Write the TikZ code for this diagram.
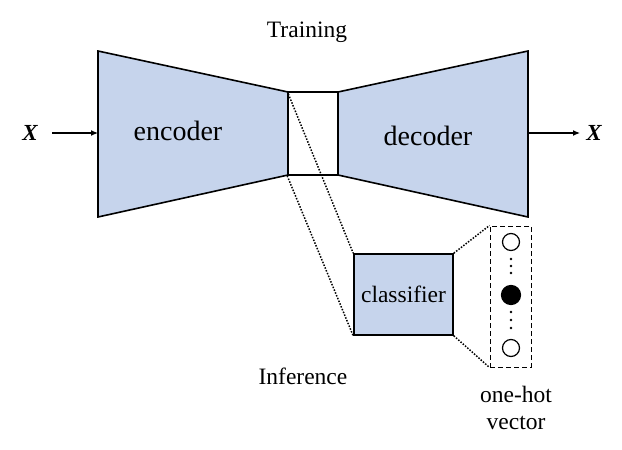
\documentclass[tikz,border=0pt]{standalone}
\usepackage{fontspec}
\setmainfont{Liberation Serif}
\usetikzlibrary{arrows.meta,calc}
\definecolor{boxblue}{HTML}{C6D4EC}
\begin{document}
\begin{tikzpicture}[x=1pt,y=-1pt,
  shapeline/.style={draw=black,line width=1.6pt,line join=miter},
  dotline/.style={draw=black,line width=1.5pt,dash pattern=on 1.5pt off 1.5pt},
  bigtext/.style={font=\fontsize{28}{30}\selectfont,inner sep=0pt},
  smalltext/.style={font=\fontsize{23.5}{26}\selectfont,inner sep=0pt},
  xlabel/.style={font=\fontsize{23}{26}\selectfont\bfseries\itshape,inner sep=0pt},
  arr/.style={draw=black,line width=1.2pt,-{Latex[length=7pt,width=6pt]}},
  unit/.style={circle,draw=black,line width=1.2pt,minimum size=17pt,inner sep=0pt},
  vdot/.style={circle,fill=black,minimum size=2.8pt,inner sep=0pt}]
\useasboundingbox (0,0) rectangle (622,450);
% encoder
\coordinate (e1) at (98,51);
\coordinate (e2) at (288,92);
\coordinate (e3) at (288,175);
\coordinate (e4) at (98,217);
\coordinate (ein) at (98,133);
\fill[boxblue] (e1) -- (e2) -- (e3) -- (e4) -- cycle;
\draw[shapeline] (e1) -- (e2) -- (e3) -- (e4) -- cycle;
% decoder
\coordinate (d1) at (338,92);
\coordinate (d2) at (528,51);
\coordinate (d3) at (528,217);
\coordinate (d4) at (338,175);
\coordinate (dout) at (528,133);
\fill[boxblue] (d1) -- (d2) -- (d3) -- (d4) -- cycle;
\draw[shapeline] (d1) -- (d2) -- (d3) -- (d4) -- cycle;
% latent box
\node[shapeline,fill=white,minimum width=50pt,minimum height=83pt,inner sep=0pt] (lat) at (313,133.5) {};
% labels
\node[bigtext] (enc) at (178,131) {encoder};
\node[bigtext] (dec) at (428,136) {decoder};
\node[smalltext] (train) at (307,32) {Training};
\node[smalltext] (infer) at (303,376) {Inference};
\node[xlabel] (xin) at (30,133) {X};
\node[xlabel] (xout) at (594,133) {X};
\coordinate (ain) at (52,133);
\coordinate (aout) at (580,133);
\draw[arr] (ain) -- (ein);
\draw[arr] (dout) -- (aout);
% classifier
\node[shapeline,fill=boxblue,minimum width=99pt,minimum height=81pt,inner sep=0pt,font=\fontsize{23.5}{26}\selectfont] (cls) at (403.5,294.5) {classifier};
% one-hot
\node[draw=black,line width=1pt,dash pattern=on 5pt off 3pt,minimum width=41pt,minimum height=141pt,inner sep=0pt] (oh) at (510.5,296.5) {};
\node[unit] (c1) at (511,242) {};
\node[unit,fill=black,minimum size=19pt] (c2) at (511,295) {};
\node[unit] (c3) at (511,348) {};
\node[vdot] (v1) at (511,259) {};
\node[vdot] (v2) at (511,266) {};
\node[vdot] (v3) at (511,273) {};
\node[vdot] (v4) at (511,312) {};
\node[vdot] (v5) at (511,320) {};
\node[vdot] (v6) at (511,328) {};
\node[smalltext] (oh1) at (516,394) {one-hot};
\node[smalltext] (oh2) at (516,423) {vector};
% dotted projection lines
\draw[dotline] (lat.north west) -- (cls.north west);
\draw[dotline] (lat.south west) -- (cls.south west);
\draw[dotline] (cls.north east) -- (oh.north west);
\draw[dotline] (cls.south east) -- (oh.south west);
\end{tikzpicture}
\end{document}
